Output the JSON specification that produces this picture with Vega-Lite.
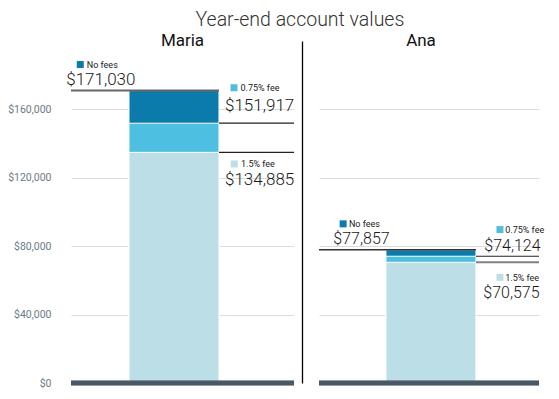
{
  "$schema": "https://vega.github.io/schema/vega-lite/v6.json",
  "background": "white",
  "padding": {"left": 7, "top": 9, "right": 5, "bottom": 5},
  "bounds": "flush",
  "spacing": 25,
  "title": {"text": "Year-end account values", "font": "Roboto", "fontSize": 19.5, "fontWeight": 300, "color": "#333333", "anchor": "middle", "dx": 24, "offset": 2},
  "config": {"view": {"stroke": null}, "font": "Roboto"},
  "datasets": {
    "fees": [
      {"person": "Maria", "fee": "No fees", "value": 171030},
      {"person": "Maria", "fee": "0.75% fee", "value": 151917},
      {"person": "Maria", "fee": "1.5% fee", "value": 134885},
      {"person": "Ana", "fee": "No fees", "value": 77857},
      {"person": "Ana", "fee": "0.75% fee", "value": 74124},
      {"person": "Ana", "fee": "1.5% fee", "value": 70575}
    ]
  },
  "hconcat": [
    {
      "width": 223,
      "height": 342,
      "data": {"name": "fees"},
      "transform": [{"filter": "datum.person === 'Maria'"}],
      "title": {"text": "Maria", "fontSize": 17, "fontWeight": 400, "color": "#111111", "offset": -8, "dy": 14, "baseline": "alphabetic", "anchor": "middle"},
      "encoding": {
        "y": {
          "field": "value", "type": "quantitative", "stack": null,
          "scale": {"domain": [0, 200000], "nice": false},
          "axis": {"title": null, "values": [0, 40000, 80000, 120000, 160000], "format": "$,.0f", "grid": true, "gridColor": "#dcdcdc", "gridWidth": 1, "domain": false, "ticks": false, "labelPadding": 20, "labelColor": "#6c7a86", "labelFontSize": 10.5, "labelFont": "Roboto"}
        }
      },
      "layer": [
        {
          "mark": {"type": "bar", "stroke": "white", "strokeWidth": 1},
          "encoding": {
            "x": {"field": "person", "type": "nominal", "axis": null, "scale": {"paddingInner": 0, "paddingOuter": 0.7389, "align": 0.436}},
            "color": {"field": "fee", "type": "nominal", "legend": null, "scale": {"domain": ["No fees", "0.75% fee", "1.5% fee"], "range": ["#0b7bac", "#4dbfe0", "#bcdfe7"]}}
          }
        },
        {
          "mark": {"type": "rule", "color": "#4a5866", "strokeWidth": 4.5},
          "encoding": {"y": {"datum": 0}}
        },
        {
          "transform": [{"filter": "datum.fee === 'No fees'"}],
          "mark": {"type": "rule", "color": "#666666", "strokeWidth": 2},
          "encoding": {"x": {"field": "person", "type": "nominal", "bandPosition": 1}, "x2": {"value": 0}}
        },
        {
          "transform": [{"filter": "datum.fee !== 'No fees'"}],
          "mark": {"type": "rule", "color": "#222222", "strokeWidth": 1.2},
          "encoding": {"x": {"field": "person", "type": "nominal", "bandPosition": 1}, "x2": {"value": "width"}}
        },
        {
          "transform": [{"filter": "datum.fee === 'No fees'"}],
          "mark": {"type": "text", "align": "right", "baseline": "alphabetic", "dx": 6.5, "dy": -6, "fontSize": 17, "fontWeight": 300, "color": "#1a1a1a"},
          "encoding": {"x": {"field": "person", "type": "nominal", "bandPosition": 0}, "text": {"field": "value", "type": "quantitative", "format": "$,.0f"}}
        },
        {
          "transform": [{"filter": "datum.fee === '0.75% fee'"}],
          "mark": {"type": "text", "align": "left", "baseline": "alphabetic", "dx": 6, "dy": -12.7, "fontSize": 17, "fontWeight": 300, "color": "#1a1a1a"},
          "encoding": {"x": {"field": "person", "type": "nominal", "bandPosition": 1}, "text": {"field": "value", "type": "quantitative", "format": "$,.0f"}}
        },
        {
          "transform": [{"filter": "datum.fee === '1.5% fee'"}],
          "mark": {"type": "text", "align": "left", "baseline": "alphabetic", "dx": 6, "dy": 32.6, "fontSize": 17, "fontWeight": 300, "color": "#1a1a1a"},
          "encoding": {"x": {"field": "person", "type": "nominal", "bandPosition": 1}, "text": {"field": "value", "type": "quantitative", "format": "$,.0f"}}
        },
        {
          "transform": [{"filter": "datum.fee === 'No fees'"}],
          "mark": {"type": "point", "shape": "square", "filled": true, "size": 49, "opacity": 1, "xOffset": -48.7, "yOffset": -26},
          "encoding": {"x": {"field": "person", "type": "nominal", "bandPosition": 0}, "color": {"field": "fee", "type": "nominal", "legend": null}}
        },
        {
          "transform": [{"filter": "datum.fee === '0.75% fee'"}],
          "mark": {"type": "point", "shape": "square", "filled": true, "size": 49, "opacity": 1, "xOffset": 15, "yOffset": -35.5},
          "encoding": {"x": {"field": "person", "type": "nominal", "bandPosition": 1}, "color": {"field": "fee", "type": "nominal", "legend": null}}
        },
        {
          "transform": [{"filter": "datum.fee === '1.5% fee'"}],
          "mark": {"type": "point", "shape": "square", "filled": true, "size": 49, "opacity": 1, "xOffset": 15.3, "yOffset": 11.6},
          "encoding": {"x": {"field": "person", "type": "nominal", "bandPosition": 1}, "color": {"field": "fee", "type": "nominal", "legend": null}}
        },
        {
          "transform": [{"filter": "datum.fee === 'No fees'"}],
          "mark": {"type": "text", "align": "left", "baseline": "alphabetic", "dx": -42.2, "dy": -22.7, "fontSize": 9, "color": "#222222"},
          "encoding": {"x": {"field": "person", "type": "nominal", "bandPosition": 0}, "text": {"field": "fee"}}
        },
        {
          "transform": [{"filter": "datum.fee === '0.75% fee'"}],
          "mark": {"type": "text", "align": "left", "baseline": "alphabetic", "dx": 21.5, "dy": -32.5, "fontSize": 9, "color": "#222222"},
          "encoding": {"x": {"field": "person", "type": "nominal", "bandPosition": 1}, "text": {"field": "fee"}}
        },
        {
          "transform": [{"filter": "datum.fee === '1.5% fee'"}],
          "mark": {"type": "text", "align": "left", "baseline": "alphabetic", "dx": 22, "dy": 14.5, "fontSize": 9, "color": "#222222"},
          "encoding": {"x": {"field": "person", "type": "nominal", "bandPosition": 1}, "text": {"field": "fee"}}
        }
      ]
    },
    {
      "width": 220,
      "height": 342,
      "data": {"name": "fees"},
      "transform": [{"filter": "datum.person === 'Ana'"}],
      "title": {"text": "Ana", "fontSize": 17, "fontWeight": 400, "color": "#111111", "offset": -8, "dy": 14, "baseline": "alphabetic", "anchor": "middle", "dx": -8},
      "encoding": {
        "y": {
          "field": "value", "type": "quantitative", "stack": null,
          "scale": {"domain": [0, 200000], "nice": false},
          "axis": {"title": null, "values": [0, 40000, 80000, 120000, 160000], "grid": true, "gridColor": "#dcdcdc", "gridWidth": 1, "domain": true, "domainColor": "#000000", "domainWidth": 1.3, "ticks": false, "labels": false, "offset": 17}
        }
      },
      "layer": [
        {
          "mark": {"type": "bar", "stroke": "white", "strokeWidth": 1},
          "encoding": {
            "x": {"field": "person", "type": "nominal", "axis": null, "scale": {"paddingInner": 0, "paddingOuter": 0.7222, "align": 0.515}},
            "color": {"field": "fee", "type": "nominal", "legend": null, "scale": {"domain": ["No fees", "0.75% fee", "1.5% fee"], "range": ["#0b7bac", "#4dbfe0", "#bcdfe7"]}}
          }
        },
        {
          "mark": {"type": "rule", "color": "#4a5866", "strokeWidth": 4.5},
          "encoding": {"y": {"datum": 0}}
        },
        {
          "transform": [{"filter": "datum.fee === 'No fees'"}],
          "mark": {"type": "rule", "color": "#333333", "strokeWidth": 1.5},
          "encoding": {"x": {"field": "person", "type": "nominal", "bandPosition": 1}, "x2": {"value": 0}}
        },
        {
          "transform": [{"filter": "datum.fee === '0.75% fee'"}],
          "mark": {"type": "rule", "color": "#222222", "strokeWidth": 1.2},
          "encoding": {"x": {"field": "person", "type": "nominal", "bandPosition": 1}, "x2": {"value": "width"}}
        },
        {
          "transform": [{"filter": "datum.fee === '1.5% fee'"}],
          "mark": {"type": "rule", "color": "#808080", "strokeWidth": 2},
          "encoding": {"x": {"field": "person", "type": "nominal", "bandPosition": 1}, "x2": {"value": "width"}}
        },
        {
          "transform": [{"filter": "datum.fee === 'No fees'"}],
          "mark": {"type": "text", "align": "right", "baseline": "alphabetic", "dx": 3.7, "dy": -5.7, "fontSize": 16, "fontWeight": 300, "color": "#1a1a1a"},
          "encoding": {"x": {"field": "person", "type": "nominal", "bandPosition": 0}, "text": {"field": "value", "type": "quantitative", "format": "$,.0f"}}
        },
        {
          "transform": [{"filter": "datum.fee === '0.75% fee'"}],
          "mark": {"type": "text", "align": "left", "baseline": "alphabetic", "dx": 8.3, "dy": -5.7, "fontSize": 16, "fontWeight": 300, "color": "#1a1a1a"},
          "encoding": {"x": {"field": "person", "type": "nominal", "bandPosition": 1}, "text": {"field": "value", "type": "quantitative", "format": "$,.0f"}}
        },
        {
          "transform": [{"filter": "datum.fee === '1.5% fee'"}],
          "mark": {"type": "text", "align": "left", "baseline": "alphabetic", "dx": 7.3, "dy": 35.6, "fontSize": 16, "fontWeight": 300, "color": "#1a1a1a"},
          "encoding": {"x": {"field": "person", "type": "nominal", "bandPosition": 1}, "text": {"field": "value", "type": "quantitative", "format": "$,.0f"}}
        },
        {
          "transform": [{"filter": "datum.fee === 'No fees'"}],
          "mark": {"type": "point", "shape": "square", "filled": true, "size": 49, "opacity": 1, "xOffset": -42.8, "yOffset": -26},
          "encoding": {"x": {"field": "person", "type": "nominal", "bandPosition": 0}, "color": {"field": "fee", "type": "nominal", "legend": null}}
        },
        {
          "transform": [{"filter": "datum.fee === '0.75% fee'"}],
          "mark": {"type": "point", "shape": "square", "filled": true, "size": 49, "opacity": 1, "xOffset": 24, "yOffset": -26.7},
          "encoding": {"x": {"field": "person", "type": "nominal", "bandPosition": 1}, "color": {"field": "fee", "type": "nominal", "legend": null}}
        },
        {
          "transform": [{"filter": "datum.fee === '1.5% fee'"}],
          "mark": {"type": "point", "shape": "square", "filled": true, "size": 49, "opacity": 1, "xOffset": 24, "yOffset": 15},
          "encoding": {"x": {"field": "person", "type": "nominal", "bandPosition": 1}, "color": {"field": "fee", "type": "nominal", "legend": null}}
        },
        {
          "transform": [{"filter": "datum.fee === 'No fees'"}],
          "mark": {"type": "text", "align": "left", "baseline": "alphabetic", "dx": -37, "dy": -22.5, "fontSize": 9, "color": "#222222"},
          "encoding": {"x": {"field": "person", "type": "nominal", "bandPosition": 0}, "text": {"field": "fee"}}
        },
        {
          "transform": [{"filter": "datum.fee === '0.75% fee'"}],
          "mark": {"type": "text", "align": "left", "baseline": "alphabetic", "dx": 29.3, "dy": -23.5, "fontSize": 9, "color": "#222222"},
          "encoding": {"x": {"field": "person", "type": "nominal", "bandPosition": 1}, "text": {"field": "fee"}}
        },
        {
          "transform": [{"filter": "datum.fee === '1.5% fee'"}],
          "mark": {"type": "text", "align": "left", "baseline": "alphabetic", "dx": 29.3, "dy": 18.3, "fontSize": 9, "color": "#222222"},
          "encoding": {"x": {"field": "person", "type": "nominal", "bandPosition": 1}, "text": {"field": "fee"}}
        }
      ]
    }
  ]
}
